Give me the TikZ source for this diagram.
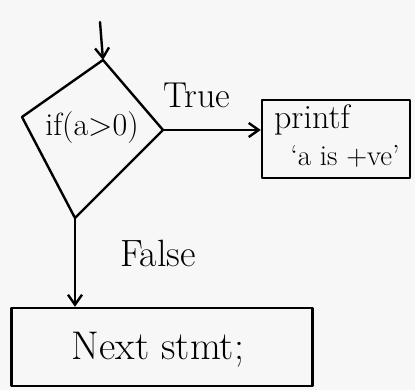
\documentclass[tikz,border=0pt]{standalone}
\usetikzlibrary{arrows.meta}
\newcommand{\fs}[1]{\fontsize{#1}{#1}\selectfont}
\begin{document}
\begin{tikzpicture}[x=1pt,y=-1pt,
  ink/.style={draw=black,line width=2.4pt,line cap=round,line join=round},
  flow/.style={ink,-{Straight Barb[length=10pt,width=14pt]}},
  lbl/.style={text=black,inner sep=0pt},
  boxnode/.style={ink,rectangle,inner sep=0pt}]
\fill[white!94!gray] (0,0) rectangle (415,390);
\useasboundingbox (0,0) rectangle (415,390);
% diamond vertices
\coordinate (dtop) at (103,60);
\coordinate (dleft) at (22,117);
\coordinate (dright) at (163,130);
\coordinate (dbot) at (75,218);
\coordinate (start) at (100,22);
\draw[ink] (dtop) -- (dright) -- (dbot) -- (dleft) -- cycle;
\node[lbl,font=\fs{32}] (cond) at (92,128) {if(a>0)};
% printf box
\node[boxnode,minimum width=148pt,minimum height=78pt] (pbox) at (336,139) {};
\node[lbl,font=\fs{34}] (ptext) at (312,120) {printf};
\node[lbl,font=\fs{29}] (ptext2) at (345,156) {`a is +ve'};
% next statement box
\node[boxnode,minimum width=301pt,minimum height=78pt] (nbox) at (162,347) {};
\node[lbl,font=\fs{40}] (ntext) at (158,350) {Next stmt;};
% connectors
\draw[flow] (start) -- (dtop);
\draw[flow] (dright) -- (pbox.west |- dright);
\draw[flow] (dbot) -- (dbot |- nbox.north);
\node[lbl,font=\fs{36}] (true) at (197,95) {True};
\node[lbl,font=\fs{38}] (false) at (158,253) {False};
\end{tikzpicture}
\end{document}
